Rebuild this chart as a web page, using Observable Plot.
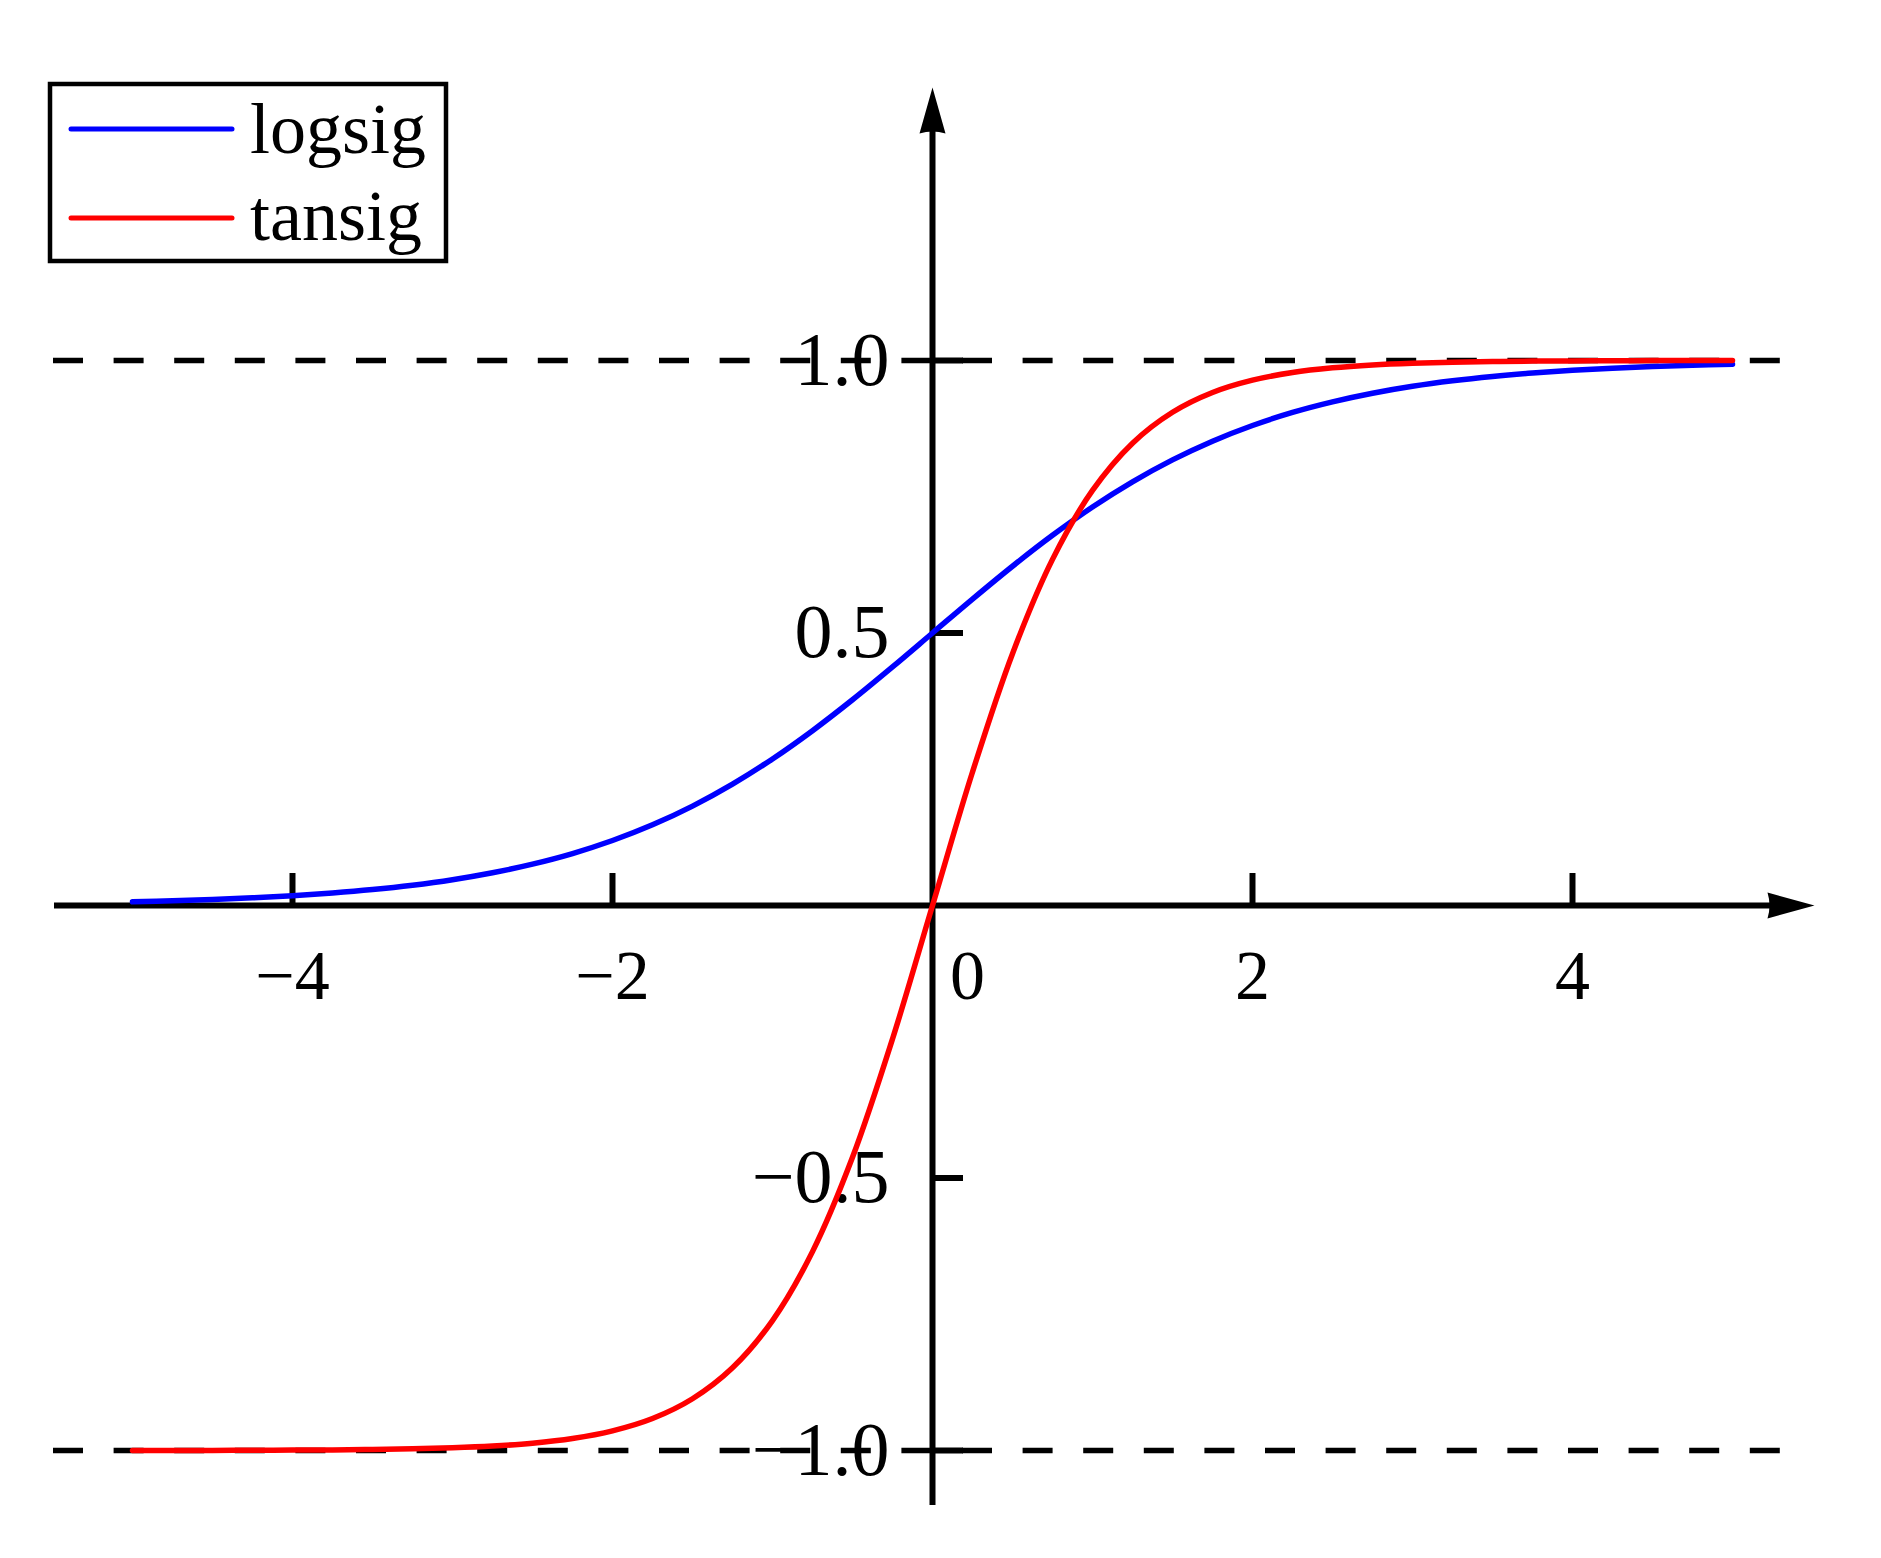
<!DOCTYPE html>
<html>
<head>
<meta charset="utf-8">
<script src="https://cdn.jsdelivr.net/npm/d3@7"></script>
<script src="https://cdn.jsdelivr.net/npm/@observablehq/plot@0.6"></script>
<style>
  html, body { margin: 0; padding: 0; background: #fff; }
  #wrap { position: relative; width: 1881px; height: 1558px; }
  #legend { position: absolute; left: 0; top: 0; }
</style>
</head>
<body>
<div id="wrap"></div>
<script>
// ---- data ----
const xValues = [-5,-4.75,-4.5,-4.25,-4,-3.75,-3.5,-3.25,-3,-2.75,-2.5,-2.25,-2,-1.75,-1.5,-1.25,-1,-0.75,-0.5,-0.25,0,
  0.25,0.5,0.75,1,1.25,1.5,1.75,2,2.25,2.5,2.75,3,3.25,3.5,3.75,4,4.25,4.5,4.75,5];
const logsigValues = [0.0067,0.0086,0.0110,0.0141,0.0180,0.0230,0.0293,0.0373,0.0474,0.0601,0.0759,0.0953,0.1192,0.1480,0.1824,0.2227,0.2689,0.3208,0.3775,0.4378,0.5,
  0.5622,0.6225,0.6792,0.7311,0.7773,0.8176,0.8520,0.8808,0.9047,0.9241,0.9399,0.9526,0.9627,0.9707,0.9770,0.9820,0.9859,0.9890,0.9914,0.9933];
const tansigValues = [-0.9999,-0.9999,-0.9998,-0.9996,-0.9993,-0.9989,-0.9982,-0.9970,-0.9951,-0.9919,-0.9866,-0.9780,-0.9640,-0.9414,-0.9051,-0.8483,-0.7616,-0.6351,-0.4621,-0.2449,0,
  0.2449,0.4621,0.6351,0.7616,0.8483,0.9051,0.9414,0.9640,0.9780,0.9866,0.9919,0.9951,0.9970,0.9982,0.9989,0.9993,0.9996,0.9998,0.9999,0.9999];
const seriesNames = ["logsig", "tansig"];
const seriesColors = ["#0000ff", "#ff0000"];
const xTicks = [-4, -2, 2, 4];
const xTickLabels = ["\u22124", "\u22122", "2", "4"];
const xZeroLabel = "0";
const yTicks = [-1, -0.5, 0.5, 1];
const yTickLabels = ["\u22121.0", "\u22120.5", "0.5", "1.0"];
const asymptotes = [-1, 1];

// ---- layout ----
const W = 1881, H = 1558;
const xDomain = [-4, 4], xRange = [292, 1572];
const yDomain = [-1, 1], yRange = [1450, 360];
const pxPerX = (xRange[1] - xRange[0]) / (xDomain[1] - xDomain[0]);
const pxPerY = (yRange[0] - yRange[1]) / (yDomain[1] - yDomain[0]);
const x0px = (xRange[0] + xRange[1]) / 2;
const y0px = (yRange[0] + yRange[1]) / 2;
const xAt = px => (px - x0px) / pxPerX;
const yAt = px => (y0px - px) / pxPerY;
const font = "'Liberation Serif', 'Times New Roman', serif";

const rows = [];
seriesNames.forEach((name, k) => {
  const vals = k === 0 ? logsigValues : tansigValues;
  xValues.forEach((x, i) => rows.push({series: name, x, y: vals[i]}));
});

const arrowUp = {draw(ctx) { ctx.moveTo(0, 0); ctx.lineTo(13, 46); ctx.quadraticCurveTo(0, 42, -13, 46); ctx.closePath(); }};
const arrowRight = {draw(ctx) { ctx.moveTo(0, 0); ctx.lineTo(-47, -13); ctx.quadraticCurveTo(-43, 0, -47, 13); ctx.closePath(); }};

const chart = Plot.plot({
  width: W,
  height: H,
  x: {domain: xDomain, range: xRange},
  y: {domain: yDomain, range: yRange},
  axis: null,
  style: {fontFamily: font, background: "#fff"},
  marks: [
    // tick labels
    Plot.text(xTicks, {x: d => d, y: 0, text: (d, i) => xTickLabels[i], dy: 93, lineAnchor: "bottom", textAnchor: "middle", fontSize: 70, fill: "black"}),
    Plot.text([0], {x: d => d, y: 0, text: () => xZeroLabel, dy: 93, dx: 35, lineAnchor: "bottom", textAnchor: "middle", fontSize: 70, fill: "black"}),
    Plot.text(yTicks, {x: 0, y: d => d, text: (d, i) => yTickLabels[i], dx: -43, lineAnchor: "middle", textAnchor: "end", fontSize: 76, fill: "black"}),
    // dashed asymptotes
    Plot.ruleY(asymptotes, {y: d => d, x1: xAt(53), x2: xAt(1789), stroke: "black", strokeWidth: 5.5, strokeDasharray: "30,30.6"}),
    // axes
    Plot.ruleY([0], {y: d => d, x1: xAt(54), x2: xAt(1790), stroke: "black", strokeWidth: 6}),
    Plot.ruleX([0], {x: d => d, y1: yAt(1505), y2: yAt(110), stroke: "black", strokeWidth: 6}),
    Plot.ruleX(xTicks, {x: d => d, y1: 0, y2: 32 / pxPerY, stroke: "black", strokeWidth: 6}),
    Plot.ruleY(yTicks, {y: d => d, x1: 0, x2: 31 / pxPerX, stroke: "black", strokeWidth: 6}),
    Plot.dot([0], {x: 0, y: yAt(87), symbol: arrowUp, fill: "black", stroke: null}),
    Plot.dot([0], {x: xAt(1814), y: 0, symbol: arrowRight, fill: "black", stroke: null}),
    // curves
    Plot.line(rows, {x: "x", y: "y", z: "series", stroke: d => seriesColors[seriesNames.indexOf(d.series)], strokeWidth: 5.5, curve: "catmull-rom"})
  ]
});
const wrap = document.getElementById("wrap");
wrap.appendChild(chart);

// ---- legend (overlay) ----
const leg = d3.create("svg").attr("id", "legend").attr("width", W).attr("height", 300);
leg.append("rect").attr("x", 50).attr("y", 84).attr("width", 396).attr("height", 177)
  .attr("fill", "white").attr("stroke", "black").attr("stroke-width", 4.5);
const rowY = [129, 218];
const baseY = [153, 240];
seriesNames.forEach((name, i) => {
  leg.append("line").attr("x1", 71).attr("x2", 232).attr("y1", rowY[i]).attr("y2", rowY[i])
    .attr("stroke", seriesColors[i]).attr("stroke-width", 5).attr("stroke-linecap", "round");
  leg.append("text").attr("x", 250).attr("y", baseY[i]).text(name)
    .attr("font-family", font).attr("font-size", 72).attr("fill", "black");
});
wrap.appendChild(leg.node());
</script>
</body>
</html>
